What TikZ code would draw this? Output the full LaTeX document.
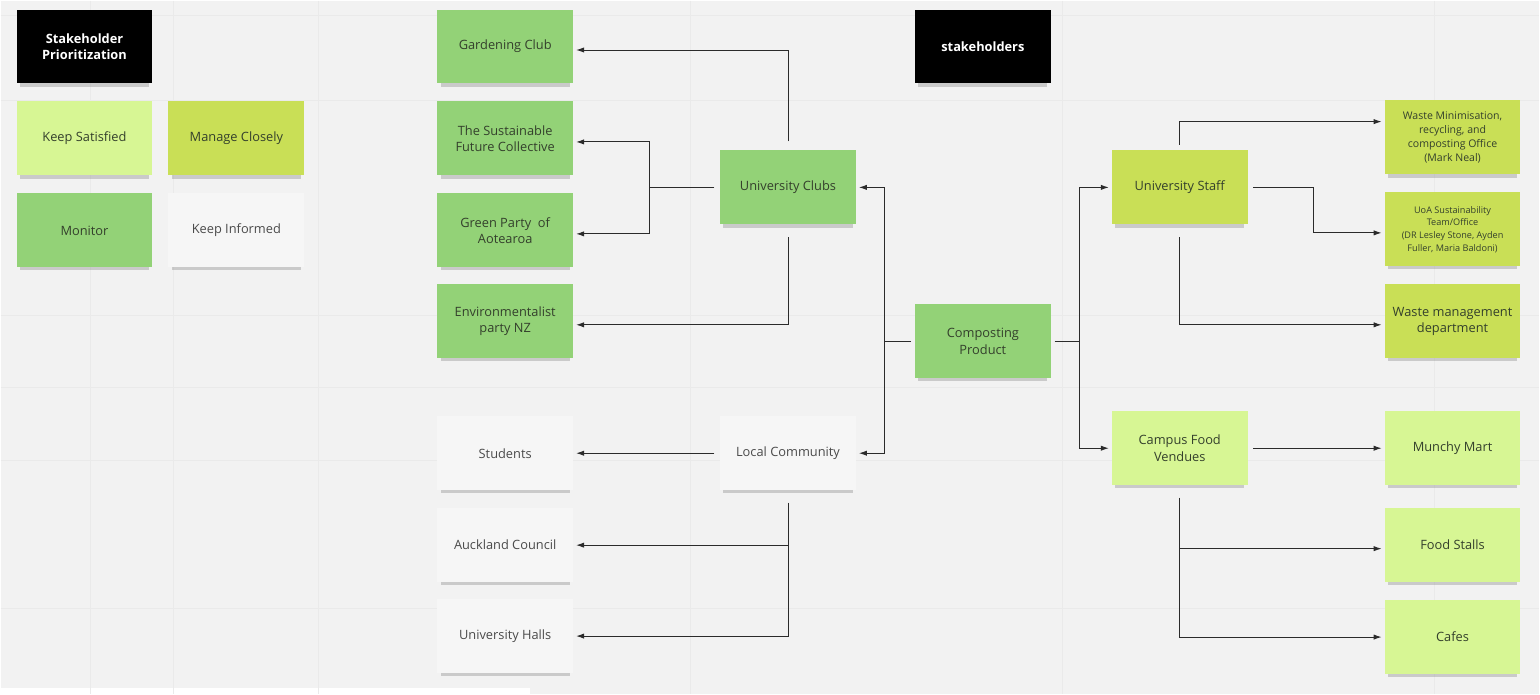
\documentclass[tikz,border=0pt]{standalone}
\usepackage{fontspec}
\setmainfont{Open Sans}
\usepackage{tikz}
\usetikzlibrary{arrows.meta, shadows}
\definecolor{boardbg}{HTML}{F2F2F2}
\definecolor{gridln}{HTML}{EAEAEA}
\definecolor{notegreen}{HTML}{93D277}
\definecolor{notelime}{HTML}{C9DF56}
\definecolor{notepale}{HTML}{D7F694}
\definecolor{notewhite}{HTML}{F6F6F6}
\definecolor{notetext}{HTML}{34402C}
\definecolor{greytext}{HTML}{4A4A4A}
\definecolor{linkcol}{HTML}{2B2B2B}
\tikzset{
	note/.style={rectangle, minimum width=2.72cm, minimum height=1.48cm, align=center, text=notetext, font=\fontsize{7.3}{9.3}\selectfont, drop shadow={shadow xshift=0pt, shadow yshift=-3pt, shadow scale=0.95, opacity=0.35}},
	titlenote/.style={note, fill=black, text=white, font=\fontsize{7.3}{9.3}\selectfont\bfseries},
	link/.style={-{Latex[length=4.5pt, width=3pt]}, draw=linkcol, line width=0.55pt, shorten >=1.5pt},
}

\begin{document}
\begin{tikzpicture}[x=0.02cm, y=-0.02cm]
	% board
	\fill[boardbg] (0,0) rectangle (1540,694);
	\fill[white] (0,688) rectangle (530,694);
	\foreach \gx in {90,173,318,690,1063,1435}
		\draw[gridln, line width=0.6pt] (\gx,0) -- (\gx,694);
	\foreach \gy in {15,100,315,387,460,608}
		\draw[gridln, line width=0.6pt] (0,\gy) -- (1540,\gy);

	% legend
	\node[titlenote] (legendtitle) at (84,46) {Stakeholder\\Prioritization};
	\node[note, fill=notepale] (satisfied) at (84,138) {Keep Satisfied};
	\node[note, fill=notelime] (manage) at (236,138) {Manage Closely};
	\node[note, fill=notegreen] (monitor) at (84,230) {Monitor};
	\node[note, fill=notewhite, text=greytext] (informed) at (236,230) {Keep Informed};

	% stakeholders
	\node[titlenote] (title) at (983,46) {stakeholders};
	\node[note, fill=notegreen] (compost) at (983,341) {Composting\\Product};

	\node[note, fill=notegreen] (clubs) at (788,187) {University Clubs};
	\node[note, fill=notegreen] (garden) at (505,46) {Gardening Club};
	\node[note, fill=notegreen] (sustain) at (505,138) {The Sustainable\\Future Collective};
	\node[note, fill=notegreen] (greenparty) at (505,230) {Green Party\ \ of\\Aotearoa};
	\node[note, fill=notegreen] (envparty) at (505,321) {Environmentalist\\party NZ};

	\node[note, fill=notewhite, text=greytext] (local) at (788,453) {Local Community};
	\node[note, fill=notewhite, text=greytext] (students) at (505,453) {Students};
	\node[note, fill=notewhite, text=greytext] (council) at (505,545) {Auckland Council};
	\node[note, fill=notewhite, text=greytext] (halls) at (505,636) {University Halls};

	\node[note, fill=notelime] (staff) at (1180,187) {University Staff};
	\node[note, fill=notelime, font=\fontsize{6}{8}\selectfont] (wastemin) at (1453,137) {Waste Minimisation,\\recycling, and\\composting Office\\(Mark Neal)};
	\node[note, fill=notelime, font=\fontsize{5.2}{7.2}\selectfont] (uoa) at (1453,229) {UoA Sustainability\\Team/Office\\(DR Lesley Stone, Ayden\\Fuller, Maria Baldoni)};
	\node[note, fill=notelime] (wastemgmt) at (1453,321) {Waste management\\department};

	\node[note, fill=notepale] (food) at (1180,448) {Campus Food\\Vendues};
	\node[note, fill=notepale] (munchy) at (1453,448) {Munchy Mart};
	\node[note, fill=notepale] (stalls) at (1453,545) {Food Stalls};
	\node[note, fill=notepale] (cafes) at (1453,637) {Cafes};

	% product to groups
	\draw[link, shorten <=2pt] (compost.west) -- ++(-30,0) coordinate (cleft) |- (clubs.east);
	\draw[link] (cleft) |- (local.east);
	\draw[link, shorten <=2pt] (compost.east) -- ++(28,0) coordinate (cright) |- (staff.west);
	\draw[link] (cright) |- (food.west);

	% clubs
	\draw[link, shorten <=5pt] (clubs.north) |- ([yshift=-2pt]garden.east);
	\draw[link, shorten <=3pt] (clubs.west) -- ++(-70,0) coordinate (cjoin) |- ([yshift=-2pt]sustain.east);
	\draw[link] (cjoin) |- ([yshift=-2pt]greenparty.east);
	\draw[link, shorten <=7pt] (clubs.south) |- ([yshift=-2pt]envparty.east);

	% community
	\draw[link, shorten <=3pt] (local.west) -- (students.east);
	\draw[link, shorten <=7pt] (local.south) |- (council.east);
	\draw[link, shorten <=7pt] (local.south) |- (halls.east);

	% staff
	\draw[link, shorten <=3pt] (staff.north) |- ([yshift=9pt]wastemin.west);
	\draw[link, shorten <=3pt] (staff.east) -- ++(65,0) |- ([yshift=-2pt]uoa.west);
	\draw[link, shorten <=7pt] (staff.south) |- ([yshift=-2pt]wastemgmt.west);

	% food vendors
	\draw[link, shorten <=3pt] (food.east) -- (munchy.west);
	\draw[link, shorten <=7pt] (food.south) |- ([yshift=-2pt]stalls.west);
	\draw[link, shorten <=7pt] (food.south) |- (cafes.west);
\end{tikzpicture}
\end{document}
